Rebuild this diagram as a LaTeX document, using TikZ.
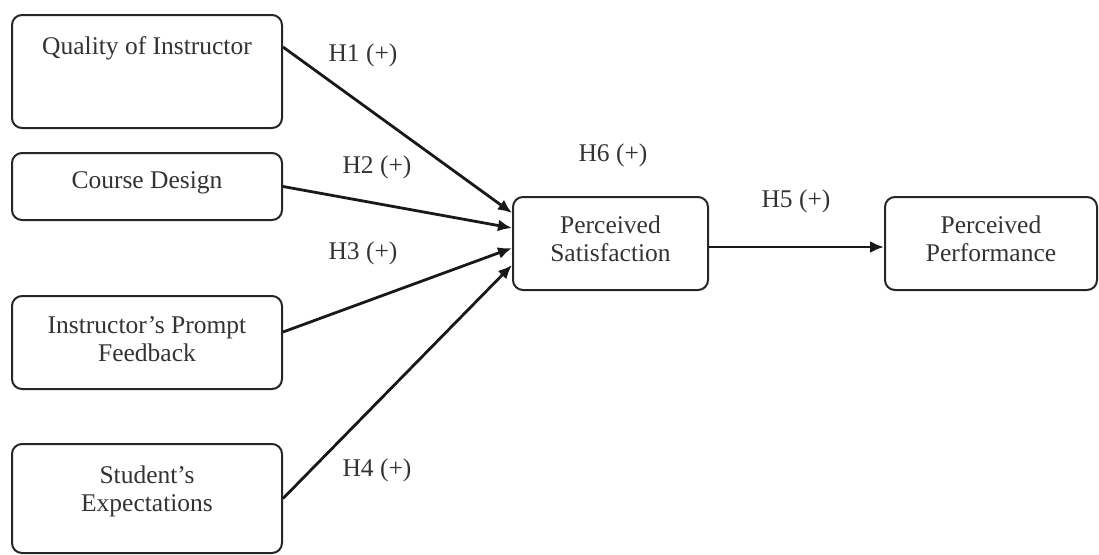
\documentclass[tikz,border=0pt]{standalone}
\usepackage{fontspec}
\setmainfont{Liberation Serif}
\usetikzlibrary{arrows.meta}

\begin{document}
\begin{tikzpicture}[x=0.5pt, y=-0.5pt, >={Latex[length=7pt, width=6pt]},
    main/.style = {draw=black!85, line width=1pt, rounded corners=5pt, align=center,
        inner ysep=0pt, text=black!80, font=\fontsize{12.75}{14}\selectfont},
    left/.style = {main, minimum width=135pt},
    hyp/.style = {text=black!80, font=\fontsize{12.75}{14}\selectfont},
    edge/.style = {->, draw=black!90, line width=1.4pt}]
    \useasboundingbox (0,0) rectangle (1099,554);
    % Nodes

    \node[left, text height=19.5pt, text depth=37pt] (1) at (147, 71.5) {Quality of Instructor};
    \node[left, text height=17.5pt, text depth=16pt] (2) at (147, 186.5) {Course Design};
    \node[left, text height=32.5pt, text depth=14pt] (3) at (147, 342.5) {Instructor’s Prompt\\Feedback};
    \node[left, text height=33.5pt, text depth=21pt] (4) at (147, 498.5) {Student’s\\Expectations};

    \node[main, minimum width=97.5pt, text height=32.25pt, text depth=14.25pt] (5) at (610.5, 243.5) {Perceived\\Satisfaction};
    \node[main, minimum width=106pt, text height=32.25pt, text depth=14.25pt] (6) at (991, 243.5) {Perceived\\Performance};

    \node[hyp] at (363, 55) {H1 (+)};
    \node[hyp] at (377, 167) {H2 (+)};
    \node[hyp] at (363, 253) {H3 (+)};
    \node[hyp] at (377, 470) {H4 (+)};
    \node[hyp] at (613, 155) {H6 (+)};
    \node[hyp] at (796, 201) {H5 (+)};

    % Edges

    \draw[edge] ([yshift=12.25pt]1.east) -- ([yshift=15.25pt]5.west);
    \draw[edge] (2.east) -- ([yshift=7.75pt]5.west);
    \draw[edge] ([yshift=5.25pt]3.east) -- ([yshift=-2.25pt]5.west);
    \draw[edge] (4.east) -- ([yshift=-10.75pt]5.west);
    \draw[edge] ([yshift=-1.75pt]5.east) -- ([yshift=-1.75pt]6.west);

\end{tikzpicture}
\end{document}
